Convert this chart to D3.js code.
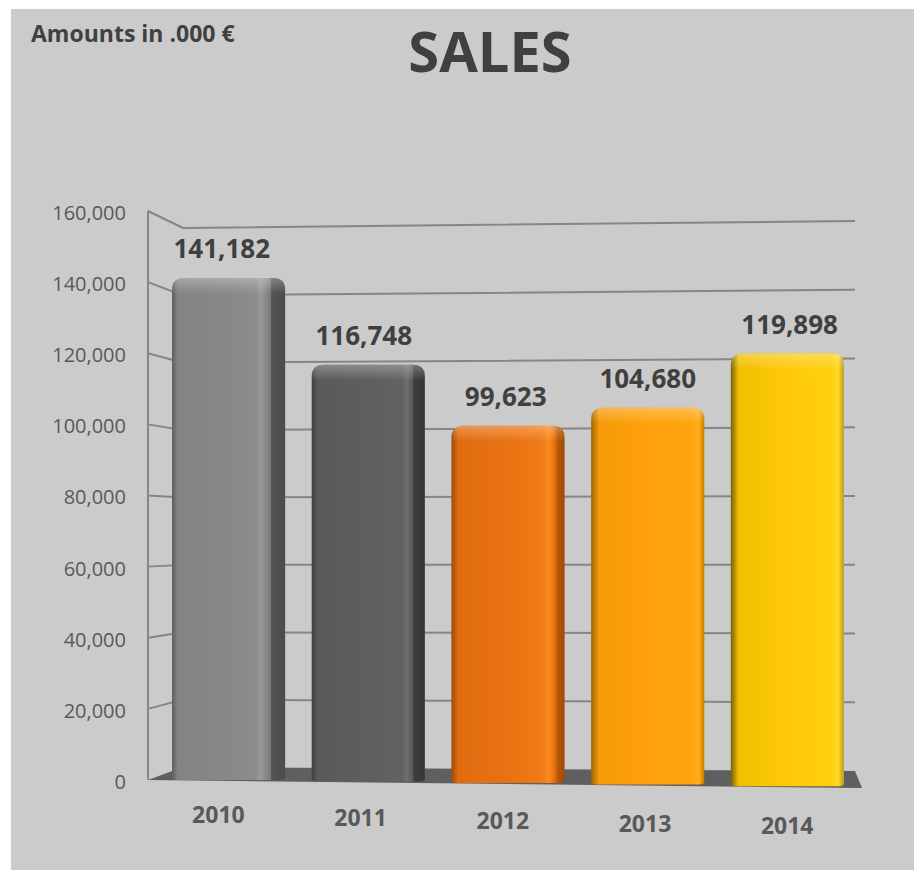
<!DOCTYPE html>
<html>
<head>
  <meta charset="utf-8">
  <title>Sales</title>
  <style>
    body { margin: 0; background: #fff; }
    text { font-family: "Open Sans", sans-serif; }
  </style>
</head>
<body>
  <div id="chart"></div>
  <script src="https://cdn.jsdelivr.net/npm/d3@7"></script>
  <script>
    // data
    const years = ["2010", "2011", "2012", "2013", "2014"];
    const sales = [141182, 116748, 99623, 104680, 119898];
    const tickValues = [0, 20000, 40000, 60000, 80000, 100000, 120000, 140000, 160000];

    // shading of each bar, left to right across the face
    const barShades = [
      [[0, "#5e5e5e"], [0.05, "#838383"], [0.5, "#888888"], [0.74, "#8c8c8c"], [0.78, "#9a9a9a"], [0.83, "#8a8a8a"], [0.87, "#7a7a7a"], [0.88, "#545454"], [1, "#4c4c4c"]],
      [[0, "#3e3e3e"], [0.05, "#5a5a5a"], [0.5, "#5e5e5e"], [0.8, "#626262"], [0.84, "#6e6e6e"], [0.89, "#5a5a5a"], [0.905, "#3c3c3c"], [1, "#383838"]],
      [[0, "#9a4a06"], [0.06, "#e06c10"], [0.5, "#e97212"], [0.8, "#f07a16"], [0.86, "#fb8a20"], [0.91, "#e8700e"], [0.94, "#b45806"], [1, "#9e4c04"]],
      [[0, "#a06400"], [0.07, "#f59a08"], [0.5, "#ffa10a"], [0.9, "#ffa50e"], [0.95, "#ffae20"], [0.98, "#e89000"], [1, "#c07a00"]],
      [[0, "#7a6200"], [0.07, "#f0c000"], [0.5, "#ffc90a"], [0.9, "#ffd010"], [0.95, "#ffd830"], [0.98, "#d8b000"], [1, "#a8a070"]]
    ];

    const width = 914, height = 870;

    const svg = d3.select("#chart")
      .append("svg")
      .attr("width", width)
      .attr("height", height);

    const defs = svg.append("defs");

    // grey panel
    svg.append("rect")
      .attr("x", 11).attr("y", 9)
      .attr("width", width - 11).attr("height", height - 9)
      .attr("fill", "#cbcbcb");

    // titles
    svg.append("text")
      .attr("x", 31).attr("y", 42)
      .attr("font-size", 23).attr("font-weight", 700)
      .attr("fill", "#404040")
      .text("Amounts in .000 €");

    svg.append("text")
      .attr("x", 490).attr("y", 72)
      .attr("text-anchor", "middle")
      .attr("font-size", 56).attr("font-weight", 700)
      .attr("fill", "#404040")
      .text("SALES");

    // 3d walls: front edge, back-left corner and back-right end
    const wallFrontX = 148, wallBackX = 183, wallRightX = 855;
    const yFront = d3.scaleLinear().domain([0, 160000]).range([780, 211]);
    const yBackL = d3.scaleLinear().domain([0, 160000]).range([767, 228]);
    const yBackR = d3.scaleLinear().domain([0, 160000]).range([771, 221]);
    const floorFront = d3.scaleLinear().domain([148, 862]).range([780, 788]);
    const yearLine = d3.scaleLinear().domain([148, 862]).range([814, 828]);

    // gridlines
    svg.append("g")
      .selectAll("path")
      .data(tickValues.filter(d => d > 0))
      .enter().append("path")
      .attr("d", d => `M${wallFrontX},${yFront(d)} L${wallBackX},${yBackL(d)} L${wallRightX},${yBackR(d)}`)
      .attr("fill", "none")
      .attr("stroke", "#868686")
      .attr("stroke-width", 2);

    // floor
    svg.append("path")
      .attr("d", `M${wallFrontX},${yFront(0)} L${wallBackX},${yBackL(0)} L${wallRightX},${yBackR(0)} L862,${floorFront(862)} Z`)
      .attr("fill", "#5f5f5f");

    // y axis
    const yAxis = svg.append("g")
      .attr("transform", `translate(${wallFrontX},2)`)
      .call(d3.axisLeft(yFront).tickValues(tickValues).tickFormat(d3.format(",")).tickSize(0).tickPadding(22));
    yAxis.select(".domain").remove();
    yAxis.selectAll("text")
      .attr("font-family", "Open Sans, sans-serif")
      .attr("font-size", 20)
      .attr("fill", "#595959");

    svg.append("line")
      .attr("x1", wallFrontX).attr("x2", wallFrontX)
      .attr("y1", yFront(160000)).attr("y2", yFront(0))
      .attr("stroke", "#868686")
      .attr("stroke-width", 2);

    // bars
    const x = d3.scaleBand()
      .domain(years)
      .range([172, 844])
      .paddingInner(0.19);

    const topGlow = defs.append("linearGradient")
      .attr("id", "topglow")
      .attr("x1", 0).attr("x2", 0).attr("y1", 0).attr("y2", 1);
    topGlow.append("stop").attr("offset", 0).attr("stop-color", "#fff").attr("stop-opacity", 0.28);
    topGlow.append("stop").attr("offset", 1).attr("stop-color", "#fff").attr("stop-opacity", 0);

    function barPath(x0, x1, yT, yB, r) {
      return `M${x0},${yB - 3} L${x0},${yT + r} Q${x0},${yT} ${x0 + r},${yT} L${x1 - r},${yT} Q${x1},${yT} ${x1},${yT + r} L${x1},${yB - 3} Q${x1},${yB} ${x1 - 5},${yB} L${x0 + 5},${yB} Q${x0},${yB} ${x0},${yB - 3} Z`;
    }

    const bars = years.map((yr, i) => {
      const x0 = x(yr), x1 = x(yr) + x.bandwidth();
      return {
        year: yr, value: sales[i], i: i,
        x0: x0, x1: x1,
        yT: yFront(sales[i]),
        yB: floorFront((x0 + x1) / 2) - 1
      };
    });

    bars.forEach(b => {
      const g = defs.append("linearGradient")
        .attr("id", "shade" + b.i)
        .attr("x1", 0).attr("x2", 1).attr("y1", 0).attr("y2", 0);
      barShades[b.i].forEach(s => g.append("stop").attr("offset", s[0]).attr("stop-color", s[1]));
      defs.append("clipPath")
        .attr("id", "clip" + b.i)
        .append("path")
        .attr("d", barPath(b.x0, b.x1, b.yT, b.yB, 12));
    });

    const barG = svg.append("g")
      .selectAll("g")
      .data(bars)
      .enter().append("g");

    barG.append("path")
      .attr("d", d => barPath(d.x0, d.x1, d.yT, d.yB, 12))
      .attr("fill", d => `url(#shade${d.i})`);

    barG.append("rect")
      .attr("clip-path", d => `url(#clip${d.i})`)
      .attr("x", d => d.x0).attr("y", d => d.yT)
      .attr("width", d => d.x1 - d.x0).attr("height", 16)
      .attr("fill", "url(#topglow)");

    // value labels
    barG.append("text")
      .attr("x", d => d.x0 + (d.x1 - d.x0) * (0.44 + 0.02 * d.i))
      .attr("y", d => d.yT - 20)
      .attr("text-anchor", "middle")
      .attr("font-size", 26).attr("font-weight", 700)
      .attr("fill", "#404040")
      .text(d => d3.format(",")(d.value));

    // year labels
    barG.append("text")
      .attr("x", d => d.x0 + (d.x1 - d.x0) * (0.41 + 0.022 * d.i))
      .attr("y", d => yearLine(d.x0 + (d.x1 - d.x0) * 0.45) + 8)
      .attr("text-anchor", "middle")
      .attr("font-size", 23).attr("font-weight", 700)
      .attr("fill", "#595959")
      .text(d => d.year);
  </script>
</body>
</html>
